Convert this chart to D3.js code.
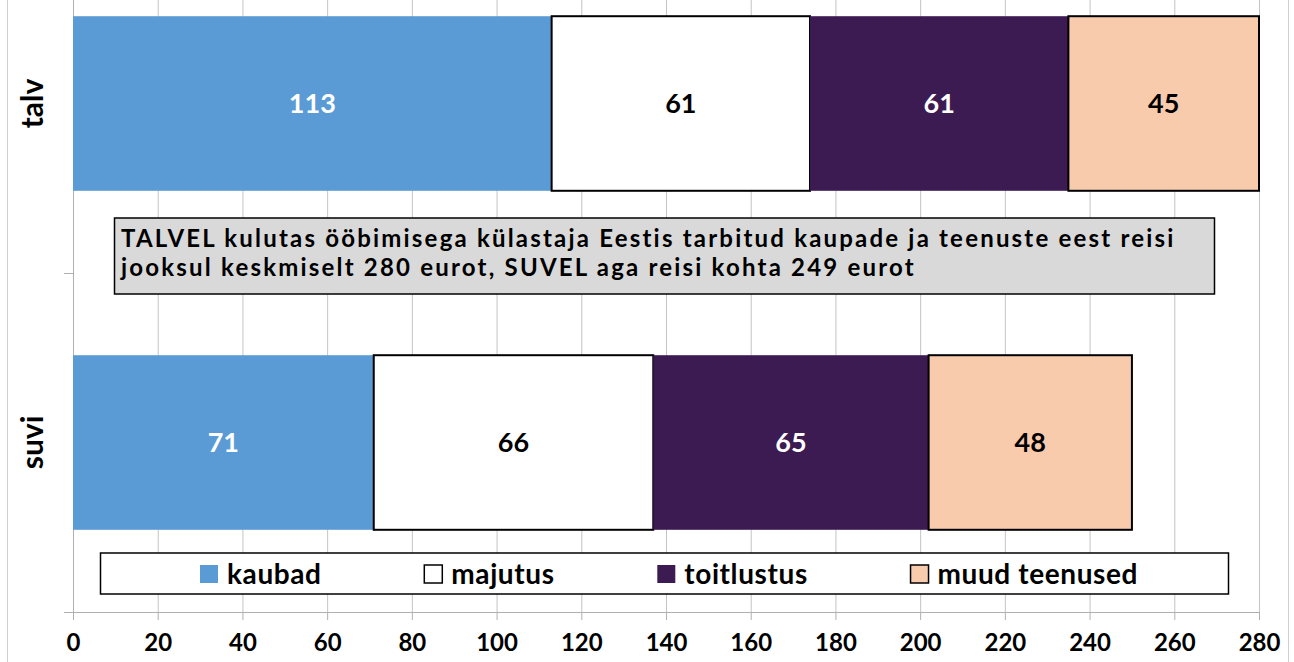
<!DOCTYPE html>
<head>
  <meta charset="utf-8">
  <style>
    body { margin: 0; background: #fff; }
    svg text { font-family: Lato, 'Open Sans', sans-serif; font-weight: bold; }
  </style>
</head>
<body>
  <script src="https://cdn.jsdelivr.net/npm/d3@7"></script>
  <script>
    // data
    const categories = ["talv", "suvi"];
    const seriesNames = ["kaubad", "majutus", "toitlustus", "muud teenused"];
    const talvValues = [113, 61, 61, 45];
    const suviValues = [71, 66, 65, 48];
    const xTickValues = [0, 20, 40, 60, 80, 100, 120, 140, 160, 180, 200, 220, 240, 260, 280];
    const fillColors = ["#5b9bd5", "#ffffff", "#3c1a52", "#f8cbad"];
    const labelColors = ["#fff", "#000", "#fff", "#000"];
    const hasBorder = [false, true, false, true];
    const noteLines = [
      "TALVEL kulutas ööbimisega külastaja Eestis tarbitud kaupade ja teenuste eest reisi",
      "jooksul keskmiselt 280 eurot, SUVEL aga reisi kohta 249 eurot"
    ];

    const width = 1294, height = 662;
    const plot = {left: 73, right: 1259, top: -66, bottom: 612};

    const svg = d3.select("body").append("svg")
      .attr("width", width)
      .attr("height", height);

    // outer chart border (only sides visible)
    svg.append("rect")
      .attr("x", 7.5).attr("y", -10)
      .attr("width", 1281).attr("height", height + 20)
      .attr("fill", "none").attr("stroke", "#d0d0d0");

    const x = d3.scaleLinear().domain([0, 280]).range([plot.left, plot.right]);
    const y = d3.scaleBand().domain(categories).range([plot.top, plot.bottom]).padding(0);
    const barH = y.bandwidth() * 0.515;

    // gridlines
    svg.append("g").selectAll("line").data(xTickValues).join("line")
      .attr("x1", d => x(d) + 0.5).attr("x2", d => x(d) + 0.5)
      .attr("y1", 0).attr("y2", plot.bottom)
      .attr("stroke", "#c4c4c4").attr("stroke-width", 1);

    // x axis
    const xAxis = svg.append("g")
      .attr("transform", "translate(0," + plot.bottom + ")")
      .call(d3.axisBottom(x).tickValues(xTickValues).tickSize(8).tickPadding(14));
    xAxis.select(".domain").attr("stroke", "#b0b0b0").attr("d", "M64,0.5H" + plot.right);
    xAxis.selectAll(".tick line").attr("stroke", "#b0b0b0");
    xAxis.selectAll("text").attr("font-size", 24).attr("fill", "#000")
      .attr("font-family", "Lato, sans-serif").attr("font-weight", "bold");

    // y axis line + ticks at band boundaries
    svg.append("line")
      .attr("x1", plot.left + 0.5).attr("x2", plot.left + 0.5)
      .attr("y1", 0).attr("y2", plot.bottom)
      .attr("stroke", "#b0b0b0");
    svg.append("g").selectAll("line").data(categories).join("line")
      .attr("x1", plot.left - 9).attr("x2", plot.left)
      .attr("y1", d => y(d) + y.bandwidth() + 0.5)
      .attr("y2", d => y(d) + y.bandwidth() + 0.5)
      .attr("stroke", "#b0b0b0");

    // category labels
    svg.append("g").selectAll("text").data(categories).join("text")
      .attr("transform", d => "translate(43," + (y(d) + y.bandwidth() / 2) + ") rotate(-90)")
      .attr("text-anchor", "middle")
      .attr("font-size", 30)
      .text(d => d);

    // stacked bars
    const rows = [talvValues, suviValues];
    categories.forEach((cat, ci) => {
      let acc = 0;
      const segs = rows[ci].map((v, si) => {
        const s = {x0: acc, x1: acc + v, v: v, si: si};
        acc += v;
        return s;
      });
      const g = svg.append("g");
      const yTop = y(cat) + (y.bandwidth() - barH) / 2;
      g.selectAll("rect").data(segs).join("rect")
        .attr("x", d => x(d.x0))
        .attr("y", yTop)
        .attr("width", d => x(d.x1) - x(d.x0))
        .attr("height", barH)
        .attr("fill", d => fillColors[d.si])
        .attr("stroke", d => hasBorder[d.si] ? "#000" : "none")
        .attr("stroke-width", 2);
      g.selectAll("text").data(segs).join("text")
        .attr("x", d => (x(d.x0) + x(d.x1)) / 2)
        .attr("y", yTop + barH / 2)
        .attr("dy", "0.36em")
        .attr("text-anchor", "middle")
        .attr("font-size", 27)
        .attr("fill", d => labelColors[d.si])
        .text(d => d.v);
    });

    // note box (one text, two lines)
    svg.append("rect")
      .attr("x", 114.5).attr("y", 218)
      .attr("width", 1100).attr("height", 76)
      .attr("fill", "#d9d9d9").attr("stroke", "#000").attr("stroke-width", 1.5);
    svg.append("text")
      .attr("font-size", 24)
      .attr("letter-spacing", 2.2)
      .selectAll("tspan").data(noteLines).join("tspan")
      .attr("x", 121)
      .attr("y", (d, i) => 246.5 + i * 29)
      .text(d => d);

    // legend
    svg.append("rect")
      .attr("x", 100.5).attr("y", 553)
      .attr("width", 1128).attr("height", 41)
      .attr("fill", "#fff").attr("stroke", "#000").attr("stroke-width", 1.5);
    const leg = svg.append("g");
    const items = seriesNames.map((name, i) => {
      const it = leg.append("g");
      it.append("rect")
        .attr("x", 0).attr("y", -9).attr("width", 18).attr("height", 18)
        .attr("fill", fillColors[i])
        .attr("stroke", hasBorder[i] ? "#000" : "none")
        .attr("stroke-width", 1.5);
      const t = it.append("text")
        .attr("x", 27).attr("dy", "0.36em")
        .attr("font-size", 28)
        .attr("letter-spacing", 0.6)
        .text(name);
      return {g: it, w: 27 + t.node().getComputedTextLength()};
    });
    const total = 1138 - 200;
    const gap = (total - d3.sum(items, d => d.w)) / (items.length - 1);
    let pos = 200;
    items.forEach(it => {
      it.g.attr("transform", "translate(" + pos + ",574)");
      pos += it.w + gap;
    });
  </script>
</body>
